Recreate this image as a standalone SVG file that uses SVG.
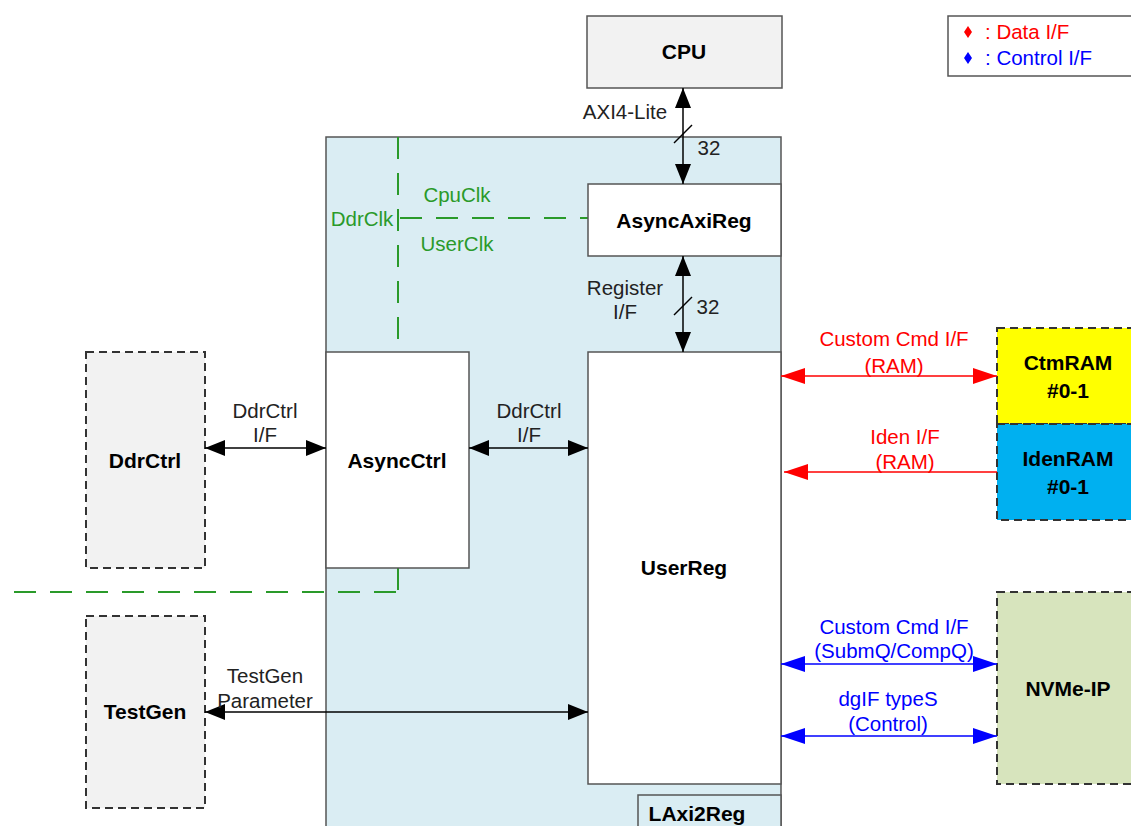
<svg xmlns="http://www.w3.org/2000/svg" width="1131" height="826" viewBox="0 0 1131 826">
<defs>
<marker id="ak" viewBox="0 0 20 16" refX="20" refY="8" markerWidth="20" markerHeight="16" markerUnits="userSpaceOnUse" orient="auto-start-reverse"><path d="M0,0 L20,8 L0,16 Z" fill="#000"/></marker>
<marker id="ar" viewBox="0 0 24 16" refX="24" refY="8" markerWidth="24" markerHeight="16" markerUnits="userSpaceOnUse" orient="auto-start-reverse"><path d="M0,0 L24,8 L0,16 Z" fill="#f00"/></marker>
<marker id="ab" viewBox="0 0 24 16" refX="24" refY="8" markerWidth="24" markerHeight="16" markerUnits="userSpaceOnUse" orient="auto-start-reverse"><path d="M0,0 L24,8 L0,16 Z" fill="#00f"/></marker>
</defs>
<style>
text{font-family:"Liberation Sans",Arial,sans-serif;font-size:20.5px;text-anchor:middle;fill:#222}
.b{font-weight:bold;font-size:21px;fill:#000}
.g{fill:#2a9a2a}
.r{fill:#f00}
.bl{fill:#00f}
.box{stroke:#555;stroke-width:1.5}
.dash{stroke:#333;stroke-width:2;stroke-dasharray:8,5}
.gl{stroke:#2a9a2a;stroke-width:2;stroke-dasharray:22,14;fill:none}
.k{stroke:#000;stroke-width:1.5;fill:none}
.rl{stroke:#f00;stroke-width:1.5;fill:none}
.bll{stroke:#00f;stroke-width:1.5;fill:none}
</style>
<g id="LAxi2Reg"><rect x="326" y="137" width="455" height="700" fill="#daedf3" class="box"/></g>
<g id="CPU"><rect x="587" y="16" width="195" height="72" fill="#f2f2f2" class="box"/><text class="b" x="684" y="59">CPU</text></g>
<g id="legend"><rect x="948" y="16" width="190" height="60" fill="#fff" class="box"/>
<path d="M968,26 L972,32 L968,38 L964,32 Z" fill="#f00"/><text class="r" x="985" y="39" style="text-anchor:start">: Data I/F</text>
<path d="M968,52 L972,58 L968,64 L964,58 Z" fill="#00f"/><text class="bl" x="985" y="65" style="text-anchor:start">: Control I/F</text></g>
<g id="clk">
<path class="gl" d="M398,137 V352"/><path class="gl" d="M398,568 V592"/>
<path class="gl" d="M400,218 H588"/><path class="gl" d="M10,592 H398" stroke-dashoffset="-4"/>
<text class="g" x="362" y="226">DdrClk</text><text class="g" x="457" y="202">CpuClk</text><text class="g" x="457" y="251">UserClk</text></g>
<g id="AsyncAxiReg"><rect x="588" y="184" width="193" height="72" fill="#fff" class="box"/><text class="b" x="684" y="228">AsyncAxiReg</text></g>
<g id="UserReg"><rect x="588" y="352" width="193" height="432" fill="#fff" class="box"/><text class="b" x="684" y="575">UserReg</text></g>
<g id="AsyncCtrl"><rect x="326" y="352" width="143" height="216" fill="#fff" class="box"/><text class="b" x="397" y="468">AsyncCtrl</text></g>
<g id="DdrCtrl"><rect x="86" y="352" width="119" height="216" fill="#f2f2f2" class="dash"/><text class="b" x="145" y="468">DdrCtrl</text></g>
<g id="TestGen"><rect x="86" y="616" width="119" height="192" fill="#f2f2f2" class="dash"/><text class="b" x="145" y="719">TestGen</text></g>
<g id="LAxi2RegLabel"><rect x="638" y="795" width="143" height="40" fill="#daedf3" class="box"/><text class="b" x="697" y="821">LAxi2Reg</text></g>
<g id="CtmRAM"><rect x="997" y="328" width="140" height="96" fill="#ffff00" class="dash"/><text class="b" x="1068" y="370">CtmRAM</text><text class="b" x="1068" y="398">#0-1</text></g>
<g id="IdenRAM"><rect x="997" y="424" width="140" height="96" fill="#00b0f0" class="dash"/><text class="b" x="1068" y="466">IdenRAM</text><text class="b" x="1068" y="494">#0-1</text></g>
<g id="NVMe-IP"><rect x="997" y="592" width="140" height="192" fill="#d7e4bd" class="dash"/><text class="b" x="1068" y="696">NVMe-IP</text></g>
<g id="connectors">
<path class="k" d="M683,88 V184" marker-start="url(#ak)" marker-end="url(#ak)"/>
<path class="k" d="M674,143 L692,125"/>
<text x="709" y="155">32</text><text x="625" y="119">AXI4-Lite</text>
<path class="k" d="M683,256 V352" marker-start="url(#ak)" marker-end="url(#ak)"/>
<path class="k" d="M674,315 L692,297"/>
<text x="708" y="314">32</text><text x="625" y="295">Register</text><text x="625" y="319">I/F</text>
<path class="k" d="M205,448 H326" marker-start="url(#ak)" marker-end="url(#ak)"/>
<text x="265" y="418">DdrCtrl</text><text x="265" y="442">I/F</text>
<path class="k" d="M469,448 H588" marker-start="url(#ak)" marker-end="url(#ak)"/>
<text x="529" y="418">DdrCtrl</text><text x="529" y="442">I/F</text>
<path class="k" d="M205,712 H588" marker-start="url(#ak)" marker-end="url(#ak)"/>
<text x="265" y="683">TestGen</text><text x="265" y="708">Parameter</text>
<path class="rl" d="M781,376 H997" marker-start="url(#ar)" marker-end="url(#ar)"/>
<text class="r" x="894" y="346">Custom Cmd I/F</text><text class="r" x="894" y="373">(RAM)</text>
<path class="rl" d="M997,472 H784" marker-end="url(#ar)"/>
<text class="r" x="905" y="444">Iden I/F</text><text class="r" x="905" y="469">(RAM)</text>
<path class="bll" d="M781,664 H997" marker-start="url(#ab)" marker-end="url(#ab)"/>
<text class="bl" x="894" y="634">Custom Cmd I/F</text><text class="bl" x="894" y="658">(SubmQ/CompQ)</text>
<path class="bll" d="M781,736 H997" marker-start="url(#ab)" marker-end="url(#ab)"/>
<text class="bl" x="888" y="706">dgIF typeS</text><text class="bl" x="888" y="731">(Control)</text>
</g>
</svg>
